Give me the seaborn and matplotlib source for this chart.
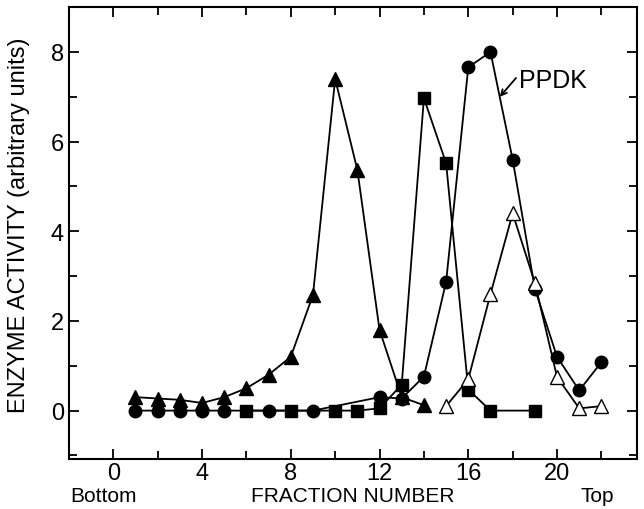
import matplotlib
matplotlib.use('Agg')
import matplotlib.pyplot as plt
import seaborn as sns

# fraction numbers and activities
frac_tri = [1, 2, 3, 4, 5, 6, 7, 8, 9, 10, 11, 12, 13, 14]
act_tri = [0.3, 0.27, 0.24, 0.17, 0.3, 0.5, 0.8, 1.2, 2.58, 7.4, 5.37, 1.8, 0.3, 0.12]

frac_ppdk = [1, 2, 3, 4, 5, 7, 9, 12, 13, 14, 15, 16, 17, 18, 19, 20, 21, 22]
act_ppdk = [0, 0, 0, 0, 0, 0, 0, 0.3, 0.27, 0.76, 2.87, 7.66, 8.0, 5.6, 2.72, 1.2, 0.45, 1.08]

frac_sq = [6, 8, 10, 11, 12, 13, 14, 15, 16, 17, 19]
act_sq = [0, 0, 0, 0, 0.05, 0.58, 6.97, 5.52, 0.47, 0, 0]

frac_open = [15, 16, 17, 18, 19, 20, 21, 22]
act_open = [0.1, 0.7, 2.6, 4.4, 2.85, 0.75, 0.05, 0.1]

sns.set_style('ticks')
plt.rcParams['font.family'] = ['Liberation Sans', 'DejaVu Sans']
plt.rcParams.update({'text.color': 'black', 'axes.labelcolor': 'black',
                     'xtick.color': 'black', 'ytick.color': 'black',
                     'axes.edgecolor': 'black'})

fig = plt.figure(figsize=(6.44, 5.10), dpi=100)
ax = fig.add_axes([0.107, 0.098, 0.882, 0.886])

common = dict(color='black', linewidth=1.3, markeredgecolor='black', markeredgewidth=1.0, ax=ax)
sns.lineplot(x=frac_tri, y=act_tri, marker='^', markersize=10, zorder=2, **common)
sns.lineplot(x=frac_ppdk, y=act_ppdk, marker='o', markersize=9, zorder=3, **common)
sns.lineplot(x=frac_sq, y=act_sq, marker='s', markersize=8.5, zorder=4, **common)
sns.lineplot(x=frac_open, y=act_open, marker='^', markersize=10.5, markerfacecolor='white',
             zorder=5, **common)

# PPDK label with its arrow
ax.annotate('', xy=(17.42, 7.0), xytext=(18.15, 7.42),
            arrowprops=dict(arrowstyle='->', color='black', lw=1.3, shrinkA=0, shrinkB=0))
ax.text(18.3, 7.37, 'PPDK', fontsize=18, ha='left', va='center')

ax.set_xlim(-2.0, 23.6)
ax.set_ylim(-1.08, 9.0)
ax.set_xticks(range(0, 23, 4))
ax.set_xticks(range(0, 23, 2), minor=True)
ax.set_yticks(range(0, 9, 2))
ax.set_yticks(range(-1, 9, 1), minor=True)

ax.tick_params(which='both', direction='in', top=True, right=True, width=1.3, labelsize=17)
ax.tick_params(axis='x', which='both', pad=2)
ax.tick_params(which='major', length=7)
ax.tick_params(which='minor', length=6)
for s in ax.spines.values():
    s.set_linewidth(1.5)

ax.set_xlabel('')
ax.set_ylabel('ENZYME ACTIVITY (arbitrary units)', fontsize=17)
ax.yaxis.set_label_coords(-0.068, 0.52)

fig.text(0.161, 0.027, 'Bottom', fontsize=15, ha='center', va='center')
fig.text(0.547, 0.027, 'FRACTION NUMBER', fontsize=15, ha='center', va='center')
fig.text(0.927, 0.027, 'Top', fontsize=15, ha='center', va='center')

fig.savefig('out.png', dpi=100)
